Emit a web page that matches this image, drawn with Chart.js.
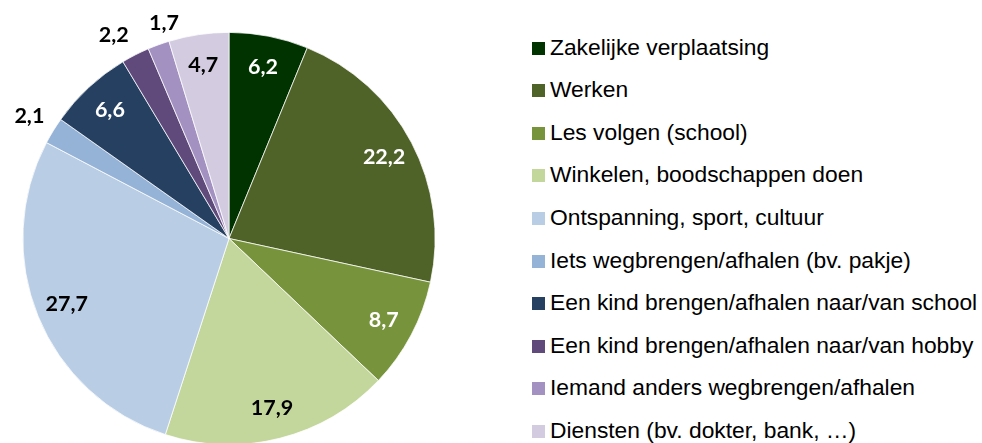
<!DOCTYPE html>
<html>
<head>
<meta charset="utf-8">
<script src="https://cdn.jsdelivr.net/npm/chart.js@4.4.1/dist/chart.umd.min.js"></script>
<style>
  html, body { margin:0; padding:0; background:#fff; overflow:hidden; }
  #wrap { position:relative; width:982px; height:443px; overflow:hidden; }
  #pie { position:absolute; left:0; top:0; }
  #legend { position:absolute; left:532px; top:0; font-family:"Liberation Sans", Arial, sans-serif; font-size:22.8px; color:#000; }
  .item { position:absolute; left:0; white-space:nowrap; height:26px; line-height:26px; }
  .box { position:absolute; left:0; top:8px; width:13px; height:13px; }
  .txt { position:absolute; left:18px; top:0; }
</style>
</head>
<body>
<div id="wrap">
  <canvas id="pie" width="460" height="450"></canvas>
  <div id="legend"></div>
</div>
<script>
// Categorieën en waarden (%)
const labels = [
  'Zakelijke verplaatsing',
  'Werken',
  'Les volgen (school)',
  'Winkelen, boodschappen doen',
  'Ontspanning, sport, cultuur',
  'Iets wegbrengen/afhalen (bv. pakje)',
  'Een kind brengen/afhalen naar/van school',
  'Een kind brengen/afhalen naar/van hobby',
  'Iemand anders wegbrengen/afhalen',
  'Diensten (bv. dokter, bank, …)'
];
const values = [6.2, 22.2, 8.7, 17.9, 27.7, 2.1, 6.6, 2.2, 1.7, 4.7];
const colors = ['#003300','#4F6228','#77933C','#C3D69B','#B9CDE5','#95B3D7','#254061','#604A7B','#A391C1','#D3CBE0'];
const labelColors = ['#fff','#fff','#fff','#000','#000','#000','#fff','#000','#000','#000'];
const outside = [false,false,false,false,false,true,false,true,true,false];
// kleine verschuiving van buitenlabels (zoals handmatig in Excel)
const nudge = {7:[-9,5], 8:[15,5]};

// Legenda (HTML)
const leg = document.getElementById('legend');
labels.forEach((l,i)=>{
  const d = document.createElement('div');
  d.className = 'item';
  d.style.top = (33.5 + i*42.6) + 'px';
  d.innerHTML = `<span class="box" style="background:${colors[i]}"></span><span class="txt">${l}</span>`;
  leg.appendChild(d);
});

// Waardelabels
const valueLabels = {
  id:'valueLabels',
  afterDatasetsDraw(chart){
    const ctx = chart.ctx;
    const meta = chart.getDatasetMeta(0);
    ctx.save();
    ctx.font = 'bold 21.5px Lato, "Open Sans", sans-serif';
    ctx.textAlign = 'center';
    ctx.textBaseline = 'middle';
    meta.data.forEach((arc,i)=>{
      const a = (arc.startAngle + arc.endAngle)/2;
      const r = outside[i] ? arc.outerRadius + 28 : arc.outerRadius * 0.85;
      const n = nudge[i] || [0,0];
      const x = arc.x + Math.cos(a)*r + n[0];
      const y = arc.y + Math.sin(a)*r + n[1];
      ctx.fillStyle = labelColors[i];
      ctx.fillText(values[i].toFixed(1).replace('.', ','), x, y);
    });
    ctx.restore();
  }
};

new Chart(document.getElementById('pie').getContext('2d'), {
  type:'pie',
  data:{ labels, datasets:[{ data:values, backgroundColor:colors, borderColor:'#fff', borderWidth:0.75 }] },
  options:{
    responsive:false, animation:false,
    layout:{ padding:{ left:22, top:32, right:24, bottom:5 } },
    plugins:{ legend:{ display:false }, tooltip:{ enabled:false } }
  },
  plugins:[valueLabels]
});
</script>
</body>
</html>
